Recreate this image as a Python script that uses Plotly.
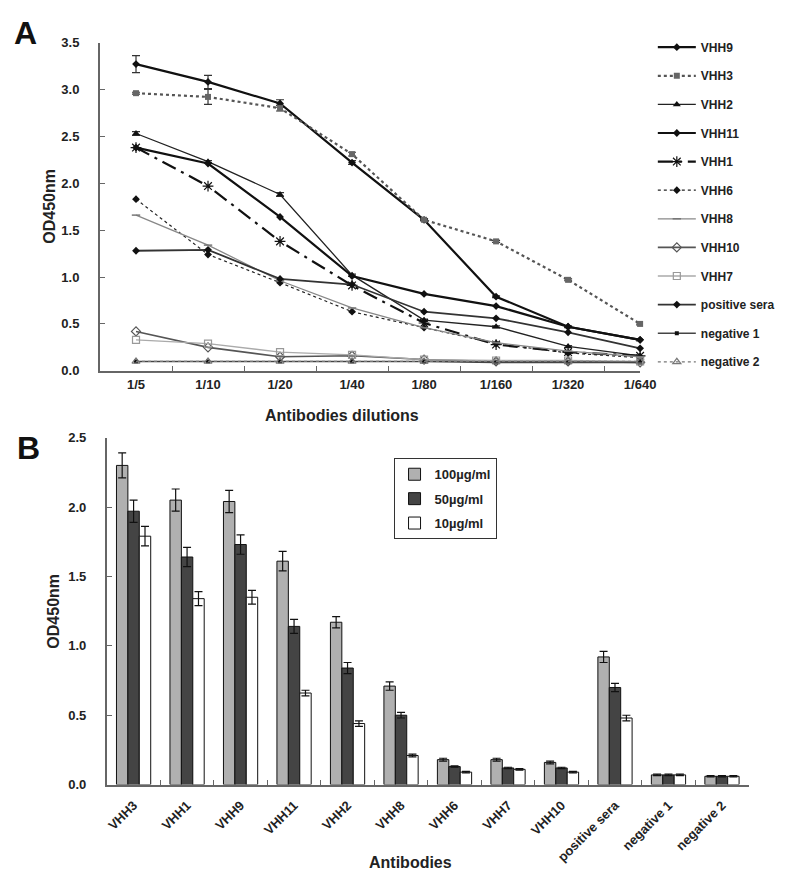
import plotly.graph_objects as go

# ---------------- Panel A data ----------------
dilutions = ["1/5", "1/10", "1/20", "1/40", "1/80", "1/160", "1/320", "1/640"]
series_names = ["VHH9", "VHH3", "VHH2", "VHH11", "VHH1", "VHH6", "VHH8",
                "VHH10", "VHH7", "positive sera", "negative 1", "negative 2"]
vhh9 = [3.27, 3.08, 2.85, 2.22, 1.61, 0.79, 0.47, 0.33]
vhh3 = [2.96, 2.92, 2.80, 2.31, 1.61, 1.38, 0.97, 0.50]
vhh2 = [2.53, 2.23, 1.88, 1.02, 0.54, 0.47, 0.26, 0.16]
vhh11 = [2.38, 2.21, 1.64, 1.01, 0.82, 0.69, 0.47, 0.33]
vhh1 = [2.38, 1.97, 1.38, 0.91, 0.51, 0.28, 0.20, 0.16]
vhh6 = [1.83, 1.24, 0.94, 0.63, 0.46, 0.29, 0.19, 0.14]
vhh8 = [1.66, 1.34, 0.96, 0.67, 0.46, 0.30, 0.21, 0.15]
vhh10 = [0.42, 0.25, 0.15, 0.16, 0.12, 0.10, 0.10, 0.09]
vhh7 = [0.33, 0.29, 0.20, 0.17, 0.12, 0.11, 0.11, 0.10]
pos_sera = [1.28, 1.29, 0.98, 0.92, 0.63, 0.56, 0.41, 0.24]
neg1 = [0.10, 0.10, 0.10, 0.10, 0.10, 0.09, 0.09, 0.09]
neg2 = [0.10, 0.10, 0.10, 0.10, 0.10, 0.10, 0.10, 0.10]
vhh9_err = [0.09, 0.07, 0.04, 0.02, 0.01, 0.01, 0.01, 0.01]
vhh3_err = [0.01, 0.08, 0.03, 0.02, 0.01, 0.01, 0.01, 0.01]
vhh2_err = [0.02, 0.01, 0.02, 0.01, 0.01, 0.01, 0.01, 0.01]

# ---------------- Panel B data ----------------
antibodies = ["VHH3", "VHH1", "VHH9", "VHH11", "VHH2", "VHH8", "VHH6", "VHH7",
              "VHH10", "positive sera", "negative 1", "negative 2"]
conc_names = ["100µg/ml", "50µg/ml", "10µg/ml"]
od_100 = [2.30, 2.05, 2.04, 1.61, 1.17, 0.71, 0.18, 0.18, 0.16, 0.92, 0.07, 0.06]
od_50 = [1.97, 1.64, 1.73, 1.14, 0.84, 0.50, 0.13, 0.12, 0.12, 0.70, 0.07, 0.06]
od_10 = [1.79, 1.34, 1.35, 0.66, 0.44, 0.21, 0.09, 0.11, 0.09, 0.48, 0.07, 0.06]
err_100 = [0.09, 0.08, 0.08, 0.07, 0.04, 0.03, 0.01, 0.01, 0.01, 0.04, 0.005, 0.005]
err_50 = [0.08, 0.07, 0.07, 0.05, 0.04, 0.02, 0.005, 0.005, 0.005, 0.03, 0.005, 0.005]
err_10 = [0.07, 0.05, 0.05, 0.02, 0.02, 0.01, 0.005, 0.005, 0.005, 0.02, 0.005, 0.005]

FONT = "Liberation Sans, Arial, sans-serif"

fig = go.Figure()

line_values = [vhh9, vhh3, vhh2, vhh11, vhh1, vhh6, vhh8, vhh10, vhh7, pos_sera, neg1, neg2]
line_errs = {0: vhh9_err, 1: vhh3_err, 2: vhh2_err}
line_styles = [
    dict(color="#111111", width=2.2, dash="solid"),
    dict(color="#555555", width=2.2, dash="dot"),
    dict(color="#222222", width=1.3, dash="solid"),
    dict(color="#111111", width=2.2, dash="solid"),
    dict(color="#111111", width=2.2, dash="longdashdot"),
    dict(color="#222222", width=1.2, dash="dot"),
    dict(color="#888888", width=1.3, dash="solid"),
    dict(color="#555555", width=1.6, dash="solid"),
    dict(color="#aaaaaa", width=1.3, dash="solid"),
    dict(color="#333333", width=1.8, dash="solid"),
    dict(color="#444444", width=1.6, dash="solid"),
    dict(color="#777777", width=1.3, dash="dot"),
]
marker_styles = [
    dict(symbol="diamond", size=6, color="#111111"),
    dict(symbol="square", size=6, color="#666666"),
    dict(symbol="triangle-up", size=7, color="#111111"),
    dict(symbol="diamond", size=6, color="#111111"),
    dict(symbol="asterisk-open", size=9, color="#111111", line=dict(width=1.2, color="#111111")),
    dict(symbol="diamond", size=6, color="#111111"),
    dict(symbol="line-ew-open", size=6, color="#777777", line=dict(width=1.5, color="#777777")),
    dict(symbol="diamond-open", size=7, color="#555555", line=dict(width=1.2, color="#555555")),
    dict(symbol="square-open", size=7, color="#999999", line=dict(width=1.2, color="#999999")),
    dict(symbol="diamond", size=6, color="#111111"),
    dict(symbol="square", size=4, color="#111111"),
    dict(symbol="triangle-up-open", size=7, color="#777777", line=dict(width=1.2, color="#777777")),
]

for i, (name, vals) in enumerate(zip(series_names, line_values)):
    err = None
    if i in line_errs:
        err = dict(type="data", array=line_errs[i], color="#333333", thickness=1.2, width=4)
    fig.add_trace(go.Scatter(
        x=dilutions, y=vals, name=name, mode="lines+markers",
        line=line_styles[i], marker=marker_styles[i], error_y=err,
        xaxis="x", yaxis="y", legend="legend", legendgroup=name,
        cliponaxis=False,
    ))

bar_colors = ["#b0b0b0", "#444444", "#ffffff"]
for name, vals, errs, col in zip(conc_names, [od_100, od_50, od_10], [err_100, err_50, err_10], bar_colors):
    fig.add_trace(go.Bar(
        x=antibodies, y=vals, name=name,
        marker=dict(color=col, line=dict(color="#111111", width=1)),
        error_y=dict(type="data", array=errs, color="#111111", thickness=1.2, width=4),
        xaxis="x2", yaxis="y2", legend="legend2", legendgroup="b" + name,
    ))

axis_common = dict(showline=True, linecolor="#666666", linewidth=2, ticks="inside",
                   ticklen=5, tickcolor="#666666", showgrid=False, zeroline=False,
                   tickfont=dict(family=FONT, size=13, color="#222222", weight="bold"))

TITLE_FONT = dict(family=FONT, size=16, color="#222222", weight="bold")


def ann(text, px, py, angle=0, font=None):
    return dict(text=text, x=px / 789, y=1 - py / 878, xref="paper", yref="paper",
                xanchor="center", yanchor="middle", textangle=angle, showarrow=False,
                font=font or TITLE_FONT)


LETTER_FONT = dict(family=FONT, size=32, color="#111111", weight="bold")

fig.update_layout(
    width=789, height=878,
    margin=dict(l=0, r=0, t=0, b=0),
    paper_bgcolor="white", plot_bgcolor="white",
    font=dict(family=FONT, color="#222222"),
    barmode="group", bargap=0.36, bargroupgap=0.0,
    xaxis=dict(domain=[93 / 789, 645 / 789], anchor="y", type="category",
               categoryorder="array", categoryarray=dilutions,
               range=[-0.5, 7], tickson="boundaries", ticklabelstandoff=1, **axis_common),
    yaxis=dict(domain=[1 - 362 / 878, 1 - 28 / 878], anchor="x", range=[0, 3.5],
               dtick=0.5, tickformat=".1f", ticklabelstandoff=16, **axis_common),
    xaxis2=dict(domain=[100 / 789, 756 / 789], anchor="y2", type="category",
                categoryorder="array", categoryarray=antibodies,
                range=[-0.5, 11.5], tickson="boundaries", tickangle=-45,
                ticklabelstandoff=6, **axis_common),
    yaxis2=dict(domain=[1 - 783 / 878, 1 - 430 / 878], anchor="x2", range=[0, 2.5],
                dtick=0.5, tickformat=".1f", ticklabelstandoff=16, **axis_common),
    legend=dict(x=658 / 789, y=1 - 18 / 878, xanchor="left", yanchor="top",
                bgcolor="rgba(0,0,0,0)", tracegroupgap=9.6, itemwidth=38,
                font=dict(family=FONT, size=12, color="#222222", weight="bold")),
    legend2=dict(x=393 / 789, y=1 - 451 / 878, xanchor="left", yanchor="top",
                 bgcolor="white", bordercolor="#333333", borderwidth=1,
                 tracegroupgap=4.5, itemwidth=30,
                 font=dict(family=FONT, size=13, color="#222222", weight="bold")),
    annotations=[
        dict(text="A", x=17 / 789, y=1.0, xref="paper", yref="paper",
             xanchor="center", yanchor="top", yshift=2, showarrow=False, font=LETTER_FONT),
        ann("B", 20, 441, font=LETTER_FONT),
        ann("OD450nm", 42, 195, angle=-90),
        ann("OD450nm", 46, 607, angle=-90),
        ann("Antibodies dilutions", 340, 407),
        ann("Antibodies", 410, 862),
    ],
)

fig.write_html("out.html")
